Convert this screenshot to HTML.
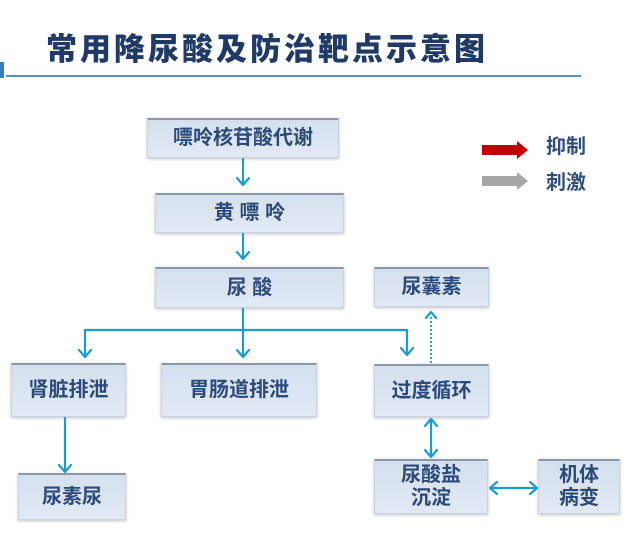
<!DOCTYPE html>
<html><head><meta charset="utf-8"><style>
html,body{margin:0;padding:0;background:#fff;}
body{width:640px;height:546px;position:relative;overflow:hidden;font-family:"Liberation Sans","Noto Sans CJK SC",sans-serif;}
.title{position:absolute;left:46px;top:30px;font-size:31px;font-weight:900;color:#1f3a66;letter-spacing:3px;line-height:40px;white-space:nowrap;}
.hline{position:absolute;left:6px;top:75px;width:575px;height:2px;background:#5a93c8;}
.bar{position:absolute;left:0;top:62px;width:4px;height:16px;background:#3a7cc0;}
.box{position:absolute;box-sizing:border-box;background:linear-gradient(#d5e0ee,#e1e9f4);border:1px solid #c8d4e4;border-top:2px solid #8f98a6;box-shadow:0 1px 3px rgba(0,0,0,0.25);display:flex;align-items:center;justify-content:center;text-align:center;font-weight:bold;color:#2b4a7c;font-size:20px;line-height:23px;white-space:nowrap;}
.leg{position:absolute;font-weight:bold;color:#2f4d7e;font-size:20px;line-height:22px;}
svg{position:absolute;left:0;top:0;}
</style></head><body>
<div class="title">常用降尿酸及防治靶点示意图</div>
<div class="bar"></div>
<div class="hline"></div>

<div class="box" style="left:147px;top:118px;width:192px;height:40px;">嘌呤核苷酸代谢</div>
<div class="box" style="left:155px;top:193px;width:189px;height:40px;">黄 嘌 呤</div>
<div class="box" style="left:155px;top:267px;width:189px;height:41px;">尿 酸</div>
<div class="box" style="left:374px;top:267px;width:115px;height:40px;">尿囊素</div>
<div class="box" style="left:11px;top:363px;width:115px;height:54px;">肾脏排泄</div>
<div class="box" style="left:161px;top:363px;width:156px;height:54px;">胃肠道排泄</div>
<div class="box" style="left:374px;top:364px;width:115px;height:53px;">过度循环</div>
<div class="box" style="left:18px;top:473px;width:108px;height:47px;">尿素尿</div>
<div class="box" style="left:374px;top:459px;width:114px;height:55px;">尿酸盐<br>沉淀</div>
<div class="box" style="left:538px;top:459px;width:82px;height:55px;">机体<br>病变</div>

<div class="leg" style="left:546px;top:136px;">抑制</div>
<div class="leg" style="left:546px;top:172px;">刺激</div>

<svg width="640" height="546" viewBox="0 0 640 546">
 <g stroke="#1a9ad6" stroke-width="2.2" fill="none" stroke-linecap="round" stroke-linejoin="round">
  <line x1="243" y1="159" x2="243" y2="184"/><polyline points="237,178 243,185 249,178"/>
  <line x1="243" y1="234" x2="243" y2="258"/><polyline points="237,252 243,259 249,252"/>
  <line x1="243" y1="309" x2="243" y2="356"/><polyline points="237,350 243,357 249,350"/>
  <polyline points="85,356 85,330 407,330 407,354"/>
  <polyline points="79,350 85,357 91,350"/>
  <polyline points="401,348 407,355 413,348"/>
  <line x1="65" y1="418" x2="65" y2="471"/><polyline points="59,465 65,472 71,465"/>
  <line x1="431" y1="363" x2="431" y2="315" stroke-dasharray="2,2" stroke-linecap="butt" stroke-width="1.8"/><polyline points="426,318 431,312 436,318"/>
  <line x1="431" y1="420" x2="431" y2="456"/><polyline points="425,426 431,419 437,426"/><polyline points="425,450 431,457 437,450"/>
  <line x1="491" y1="488" x2="536" y2="488"/><polyline points="497,482 490,488 497,494"/><polyline points="530,482 537,488 530,494"/>
 </g>
 <polygon points="482,145 517,145 517,141 528,150 517,159 517,155 482,155" fill="#c00000"/>
 <polygon points="482,176 517,176 517,172 528,181 517,190 517,186 482,186" fill="#a6a6a6"/>
</svg>
</body></html>
